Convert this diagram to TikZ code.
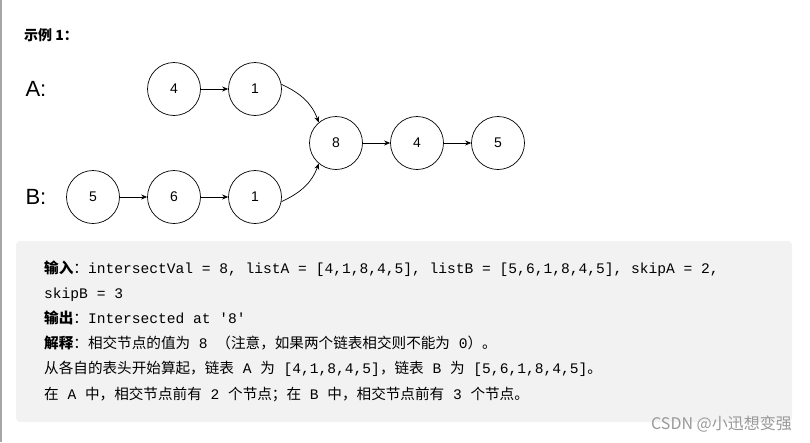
\documentclass[tikz,border=0pt]{standalone}
\usepackage{fontspec}
\setmainfont{Liberation Sans}
\setmonofont{Liberation Mono}
\newfontfamily\cjk{Noto Sans CJK SC}
\usetikzlibrary{arrows.meta}
\begin{document}
\begin{tikzpicture}[x=1pt,y=-1pt,
  nd/.style={circle,draw,line width=0.7pt,minimum size=53pt,inner sep=0pt,font=\fontsize{14}{16}\selectfont},
  ar/.style={-{Stealth[length=6pt,width=5pt]},line width=0.7pt},
  lab/.style={font=\fontsize{22}{24}\selectfont,anchor=west},
  txt/.style={anchor=base west,inner sep=0pt,font=\fontsize{14.6}{16}\ttfamily}]
\useasboundingbox (0,0) rectangle (810,442);
\fill[gray!70] (0,0) rectangle (2,442);
\node[anchor=base west,inner sep=0pt,font=\fontsize{14}{16}\cjk\bfseries] (t) at (24,40) {示例 1：};
\node[lab] (la) at (22,89) {A:};
\node[lab] (lb) at (22,197) {B:};
\node[nd] (a4) at (174,89) {4};
\node[nd] (a1) at (255,89) {1};
\node[nd] (c8) at (336,143) {8};
\node[nd] (c4) at (417,143) {4};
\node[nd] (c5) at (498,143) {5};
\node[nd] (b5) at (93,197) {5};
\node[nd] (b6) at (174,197) {6};
\node[nd] (b1) at (255,197) {1};
\draw[ar] (a4) -- (a1);
\draw[ar] (b5) -- (b6);
\draw[ar] (b6) -- (b1);
\draw[ar] (c8) -- (c4);
\draw[ar] (c4) -- (c5);
\draw[ar] (a1.10) to[out=-25,in=110] (c8.130);
\draw[ar] (b1.-10) to[out=25,in=-110] (c8.-130);
\fill[rounded corners=4pt,fill=black!5] (16,241) rectangle (792,422);
\node[txt] (l1) at (44,273) {{\cjk\bfseries 输入}{\cjk ：}intersectVal = 8, listA = [4,1,8,4,5], listB = [5,6,1,8,4,5], skipA = 2,};
\node[txt] (l2) at (44,298) {skipB = 3};
\node[txt] (l3) at (44,323) {{\cjk\bfseries 输出}{\cjk ：}Intersected at '8'};
\node[txt] (l4) at (44,348) {{\cjk\bfseries 解释}{\cjk ：相交节点的值为} 8 {\cjk （注意，如果两个链表相交则不能为} 0{\cjk ）。}};
\node[txt] (l5) at (44,373) {{\cjk 从各自的表头开始算起，链表} A {\cjk 为} [4,1,8,4,5]{\cjk ，链表} B {\cjk 为} [5,6,1,8,4,5]{\cjk 。}};
\node[txt] (l6) at (44,399) {{\cjk 在} A {\cjk 中，相交节点前有} 2 {\cjk 个节点；在} B {\cjk 中，相交节点前有} 3 {\cjk 个节点。}};
\node[anchor=base east,inner sep=0pt,text=black!40,font=\fontsize{16}{18}\cjk] (wm) at (792,429) {CSDN @小迅想变强};
\end{tikzpicture}
\end{document}
